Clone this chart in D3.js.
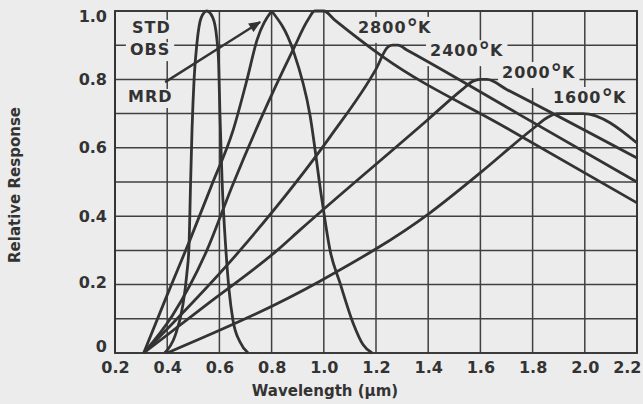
<!DOCTYPE html>
<html>
<head>
<meta charset="utf-8">
<script src="https://cdn.jsdelivr.net/npm/d3@7"></script>
<style>
  body { margin: 0; background: #ececec; }
  text { font-family: "DejaVu Sans", sans-serif; font-weight: bold; fill: #333; }
</style>
</head>
<body>
<div id="chart"></div>
<script>
// ticks and grid
const xTicks = [0.2, 0.4, 0.6, 0.8, 1.0, 1.2, 1.4, 1.6, 1.8, 2.0, 2.2];
const yTicks = [0, 0.2, 0.4, 0.6, 0.8, 1.0];
const yGrid = [0.1, 0.2, 0.3, 0.4, 0.5, 0.6, 0.7, 0.8, 0.9];

// curves: [wavelength (um), relative response]
const stdObs = [[0.39, 0], [0.43, 0.05], [0.46, 0.14], [0.475, 0.23], [0.484, 0.32], [0.489, 0.48],
  [0.495, 0.65], [0.503, 0.80], [0.514, 0.906], [0.53, 0.98], [0.552, 1.0], [0.575, 0.98],
  [0.59, 0.92], [0.597, 0.85], [0.602, 0.70], [0.61, 0.51], [0.625, 0.30], [0.637, 0.184],
  [0.652, 0.096], [0.679, 0.032], [0.71, 0]];
const mrd = [[0.31, 0], [0.40, 0.17], [0.487, 0.33], [0.57, 0.49], [0.652, 0.65], [0.706, 0.80],
  [0.744, 0.915], [0.8, 1.0], [0.882, 0.886], [0.947, 0.696], [0.993, 0.447], [1.024, 0.30],
  [1.062, 0.205], [1.112, 0.088], [1.15, 0.025], [1.185, 0]];
const k2800 = [[0.31, 0], [0.42, 0.11], [0.552, 0.30], [0.65, 0.49], [0.756, 0.68], [0.882, 0.886],
  [0.94, 0.975], [0.965, 1.0], [1.0, 1.0], [1.04, 0.975], [1.227, 0.866], [1.7, 0.658], [2.2, 0.439]];
const k2400 = [[0.31, 0], [0.679, 0.30], [1.024, 0.632], [1.20, 0.83], [1.246, 0.895], [1.265, 0.90],
  [1.284, 0.90], [1.32, 0.885], [1.75, 0.697], [2.2, 0.50]];
const k2000 = [[0.31, 0], [0.55, 0.141], [0.821, 0.30], [0.909, 0.36], [1.395, 0.68], [1.53, 0.77],
  [1.572, 0.795], [1.60, 0.80], [1.625, 0.80], [1.702, 0.77], [2.2, 0.57]];
const k1600 = [[0.40, 0], [0.985, 0.21], [1.407, 0.41], [1.598, 0.526], [1.80, 0.655], [1.86, 0.69],
  [1.893, 0.70], [1.993, 0.70], [2.2, 0.614]];

// arrow from the MRD label toward its peak
const mrdArrow = [[0.392, 0.792], [0.756, 0.968]];

// text labels placed in data units
const labels = [
  { text: "STD", at: [0.265, 0.936] },
  { text: "OBS", at: [0.257, 0.871] },
  { text: "MRD", at: [0.25, 0.734] },
  { text: "2800", deg: true, at: [1.131, 0.936] },
  { text: "2400", deg: true, at: [1.407, 0.868] },
  { text: "2000", deg: true, at: [1.683, 0.804] },
  { text: "1600", deg: true, at: [1.878, 0.731] }
];

const W = 643, H = 404;
const margin = { top: 11, right: 6, bottom: 51, left: 115 };
const width = W - margin.left - margin.right;
const height = H - margin.top - margin.bottom;
const ink = "#333";
const paper = "#ececec";

const svg = d3.select("#chart").append("svg")
    .attr("width", W)
    .attr("height", H)
    .style("display", "block");

svg.append("rect").attr("width", W).attr("height", H).attr("fill", paper);

const g = svg.append("g")
    .attr("transform", `translate(${margin.left},${margin.top})`);

const x = d3.scaleLinear().domain([0.2, 2.2]).range([0, width]);
const y = d3.scaleLinear().domain([0, 1]).range([height, 0]);

// grid
g.append("g").selectAll("line")
    .data(xTicks)
    .join("line")
    .attr("x1", d => x(d)).attr("x2", d => x(d))
    .attr("y1", 0).attr("y2", height)
    .attr("stroke", "#404040").attr("stroke-width", 1.5);

g.append("g").selectAll("line")
    .data(yGrid)
    .join("line")
    .attr("x1", 0).attr("x2", width)
    .attr("y1", d => y(d)).attr("y2", d => y(d))
    .attr("stroke", "#404040").attr("stroke-width", 1.5);

g.append("rect")
    .attr("width", width).attr("height", height)
    .attr("fill", "none").attr("stroke", ink).attr("stroke-width", 1.9);

// axes (labels only)
const xAxis = g.append("g")
    .attr("transform", `translate(0,${height})`)
    .call(d3.axisBottom(x).tickValues(xTicks).tickSize(0).tickPadding(9).tickFormat(d3.format(".1f")));
xAxis.select(".domain").remove();
xAxis.selectAll("text").style("font-size", "16px").style("fill", "#333");
xAxis.selectAll(".tick:last-of-type text").attr("text-anchor", "end").attr("dx", 4);

const yAxis = g.append("g")
    .call(d3.axisLeft(y).tickValues(yTicks).tickSize(0).tickPadding(8)
      .tickFormat(d => d === 0 ? "0" : d.toFixed(1)));
yAxis.select(".domain").remove();
yAxis.selectAll("text").style("font-size", "16px").style("fill", "#333")
    .attr("dy", d => d === 1 ? "0.64em" : d === 0 ? "-0.1em" : d === 0.2 ? "0.15em" : "0.32em");

// axis titles
svg.append("text")
    .attr("transform", "translate(20,185) rotate(-90)")
    .attr("text-anchor", "middle")
    .style("font-size", "15px")
    .text("Relative Response");

svg.append("text")
    .attr("x", 325).attr("y", 396)
    .attr("text-anchor", "middle")
    .style("font-size", "15px")
    .text("Wavelength (µm)");

// labels with paper-coloured boxes that break the grid
const lab = g.append("g").selectAll("g")
    .data(labels)
    .join("g");
lab.append("rect").attr("fill", paper);
lab.append("text")
    .attr("x", d => x(d.at[0]))
    .attr("y", d => y(d.at[1]))
    .style("font-size", "16px")
    .style("letter-spacing", "1px")
    .each(function (d) {
      const t = d3.select(this);
      t.append("tspan").text(d.text);
      if (d.deg) {
        t.append("tspan").attr("dy", 3).style("font-size", "23px").style("letter-spacing", "0px").text("°");
        t.append("tspan").attr("dy", -3).text("K");
      }
    });
lab.each(function () {
  const b = d3.select(this).select("text").node().getBBox();
  d3.select(this).select("rect")
    .attr("x", b.x - 4).attr("y", b.y + 2)
    .attr("width", b.width + 8).attr("height", b.height);
});

// curves
const line = d3.line()
    .x(d => x(d[0]))
    .y(d => y(d[1]))
    .curve(d3.curveMonotoneX);

const peak = mrd.findIndex(d => d[1] === 1);
const series = [stdObs, mrd.slice(0, peak + 1), mrd.slice(peak), k2800, k2400, k2000, k1600];

g.append("g").selectAll("path")
    .data(series)
    .join("path")
    .attr("d", line)
    .attr("fill", "none")
    .attr("stroke", ink)
    .attr("stroke-width", 2.8)
    .attr("stroke-linejoin", "round");

// arrow
svg.append("defs").append("marker")
    .attr("id", "head")
    .attr("markerUnits", "userSpaceOnUse")
    .attr("viewBox", "0 0 12 10")
    .attr("refX", 11).attr("refY", 5)
    .attr("markerWidth", 13).attr("markerHeight", 10)
    .attr("orient", "auto")
    .append("path")
    .attr("d", "M0,0 L12,5 L0,10 Z")
    .attr("fill", ink);

g.append("path")
    .datum(mrdArrow)
    .attr("d", d3.line().x(d => x(d[0])).y(d => y(d[1])))
    .attr("stroke", ink)
    .attr("stroke-width", 2.4)
    .attr("marker-end", "url(#head)");
</script>
</body>
</html>
